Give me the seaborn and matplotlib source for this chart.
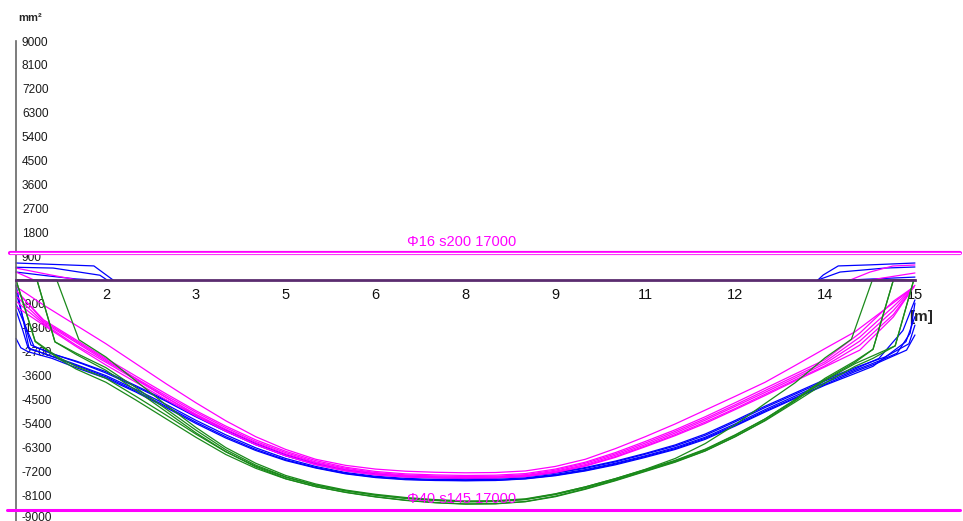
import pandas as pd
import matplotlib
matplotlib.use("Agg")
import matplotlib.pyplot as plt
import matplotlib.transforms as mtransforms
import seaborn as sns


# ---------------- data ----------------
# x ticks every 1.5 m, labels rounded like the program prints them
x_ticks = [1.5, 3.0, 4.5, 6.0, 7.5, 9.0, 10.5, 12.0, 13.5, 15.0]
x_tick_labels = ["2", "3", "5", "6", "8", "9", "11", "12", "14", "15"]
y_ticks = [9000, 8100, 7200, 6300, 5400, 4500, 3600, 2700, 1800, 900, 0,
           -900, -1800, -2700, -3600, -4500, -5400, -6300, -7200, -8100, -9000]
y_tick_labels = ["9000", "8100", "7200", "6300", "5400", "4500", "3600", "2700", "1800", "900", "",
                 "-900", "-1800", "-2700", "-3600", "-4500", "-5400", "-6300", "-7200", "-8100", "-9000"]

# provided reinforcement (mm2/m)
provided_top = 1005
provided_bottom = -8666
provided_top_label = "Φ16 s200 17000"
provided_bottom_label = "Φ40 s145 17000"

# stations of the span part (m), shared by the bottom curves
span_x = [1.5, 2.0, 2.5, 3.0, 3.5, 4.0, 4.5, 5.0, 5.5, 6.0, 6.5, 7.0, 7.5,
          8.0, 8.5, 9.0, 9.5, 10.0, 10.5, 11.0, 11.5, 12.0, 12.5, 13.0, 13.5]

# required bottom reinforcement, blue load cases
blue_left_x = [[0, 0.12, 0.22, 0.45, 0.8, 1.1], [0, 0.1, 0.2, 0.5, 0.9, 1.2], [0, 0.08, 0.2, 0.6, 1.0],
               [0, 0.15, 0.3, 0.7, 1.1], [0, 0.1, 0.25, 0.6, 1.0]]
blue_left_y = [[-190, -1500, -2600, -2750, -3050, -3300], [-1130, -1800, -2550, -2800, -3100, -3350],
               [-2200, -2550, -2700, -2950, -3300], [-900, -1700, -2500, -2850, -3150],
               [-450, -1300, -2450, -2780, -3050]]
blue_span_y = [
    [-3650, -4180, -4750, -5350, -5900, -6380, -6770, -7060, -7280, -7420, -7500, -7540, -7550,
     -7540, -7480, -7350, -7170, -6930, -6650, -6350, -5960, -5470, -4930, -4430, -3930],
    [-3600, -4120, -4680, -5280, -5830, -6320, -6720, -7020, -7250, -7390, -7470, -7510, -7520,
     -7510, -7450, -7320, -7140, -6900, -6620, -6310, -5920, -5420, -4880, -4370, -3870],
    [-3700, -4220, -4800, -5400, -5950, -6420, -6800, -7080, -7300, -7440, -7520, -7550, -7560,
     -7550, -7490, -7370, -7190, -6960, -6680, -6380, -6000, -5500, -4970, -4460, -3960],
    [-3500, -4020, -4560, -5150, -5700, -6200, -6620, -6940, -7180, -7330, -7410, -7450, -7470,
     -7460, -7400, -7270, -7090, -6850, -6560, -6250, -5850, -5340, -4800, -4300, -3800],
    [-3450, -3980, -4520, -5100, -5650, -6150, -6580, -6900, -7150, -7300, -7390, -7430, -7450,
     -7440, -7380, -7250, -7060, -6820, -6530, -6210, -5800, -5290, -4750, -4250, -3750],
]
blue_right_x = [[14.0, 14.36, 14.86, 15.0], [14.0, 14.4, 14.7, 14.92, 15.0], [14.0, 14.3, 14.85, 15.0],
                [14.0, 14.4, 14.8, 15.0], [14.0, 14.5, 14.9, 15.0]]
blue_right_y = [[-3450, -3140, -2640, -2070], [-3400, -3050, -2760, -2000, -870], [-3520, -3250, -2320, -1380],
                [-3350, -2950, -1900, -750], [-3300, -2900, -2400, -1700]]

# magenta load cases (first one is the flatter outlier)
magenta_left_x = [[0, 0.5, 1.0], [0, 0.46, 1.0], [0, 0.46, 1.0], [0, 0.46, 1.0], [0, 0.46, 1.0], [0, 0.46, 1.0]]
magenta_left_y = [[-250, -1000, -1700], [-400, -1500, -2250], [-600, -1600, -2350],
                  [-800, -1650, -2450], [-1000, -1700, -2500], [-380, -1550, -2300]]
magenta_span_y = [
    [-2400, -3150, -3900, -4620, -5300, -5900, -6380, -6750, -6980, -7120, -7200, -7240, -7260,
     -7250, -7190, -7020, -6750, -6350, -5900, -5420, -4900, -4380, -3850, -3220, -2580],
    [-2950, -3620, -4280, -4920, -5500, -6020, -6450, -6800, -7050, -7210, -7300, -7340, -7360,
     -7350, -7290, -7120, -6860, -6500, -6080, -5640, -5150, -4620, -4080, -3540, -3000],
    [-3050, -3700, -4350, -4980, -5560, -6080, -6500, -6850, -7090, -7250, -7340, -7380, -7400,
     -7390, -7330, -7160, -6900, -6550, -6140, -5700, -5220, -4700, -4160, -3620, -3080],
    [-3100, -3760, -4420, -5050, -5620, -6130, -6550, -6890, -7130, -7280, -7370, -7410, -7430,
     -7420, -7360, -7200, -6950, -6600, -6200, -5760, -5280, -4760, -4230, -3690, -3150],
    [-3200, -3850, -4500, -5120, -5690, -6200, -6610, -6940, -7170, -7320, -7400, -7440, -7450,
     -7440, -7390, -7230, -6990, -6650, -6250, -5820, -5350, -4840, -4300, -3760, -3230],
    [-3000, -3720, -4420, -5080, -5680, -6200, -6620, -6960, -7190, -7340, -7420, -7450, -7460,
     -7450, -7400, -7250, -7010, -6680, -6280, -5860, -5400, -4880, -4350, -3800, -3270],
]
magenta_right_x = [[14.0, 14.5, 14.92, 15.0], [14.08, 14.64, 14.98], [14.08, 14.64, 14.98],
                   [14.08, 14.64, 14.98], [14.08, 14.64, 14.98], [14.08, 14.64, 14.98]]
magenta_right_y = [[-1950, -1100, -380, -200], [-2000, -800, -260], [-2150, -1000, -260],
                   [-2300, -1150, -260], [-2450, -1300, -260], [-2640, -1390, -260]]

# green load cases (shifted ends, zero near the supports)
green_left_x = [[0, 0.32, 0.7, 1.0], [0, 0.35, 0.65, 1.0], [0, 0.68, 1.05], [0, 0.32, 0.7, 1.0], [0, 0.35, 0.65, 1.0]]
green_left_y = [[0, -2300, -2900, -3250], [0, 0, -2330, -2750], [0, 0, -2250], [0, -2320, -2950, -3350], [0, 0, -2330, -2800]]
green_span_y = [
    [-3700, -4380, -5080, -5800, -6470, -7010, -7430, -7730, -7940, -8100, -8220, -8300, -8350,
     -8340, -8260, -8060, -7790, -7480, -7130, -6720, -6160, -5450, -4650, -3870, -2930],
    [-3300, -4050, -4850, -5650, -6390, -6970, -7410, -7720, -7930, -8100, -8220, -8300, -8350,
     -8340, -8270, -8080, -7820, -7510, -7160, -6810, -6390, -5850, -5230, -4500, -3700],
    [-2900, -3800, -4700, -5550, -6310, -6900, -7360, -7680, -7910, -8070, -8190, -8270, -8320,
     -8310, -8240, -8050, -7790, -7480, -7140, -6790, -6370, -5830, -5230, -4520, -3780],
    [-3850, -4520, -5220, -5920, -6570, -7090, -7490, -7780, -7990, -8160, -8290, -8380, -8430,
     -8420, -8340, -8140, -7860, -7540, -7190, -6840, -6430, -5900, -5300, -4600, -3880],
    [-3400, -4150, -4950, -5750, -6460, -7040, -7480, -7780, -8000, -8170, -8300, -8390, -8440,
     -8430, -8350, -8160, -7880, -7560, -7210, -6860, -6440, -5900, -5280, -4550, -3750],
]
green_right_x = [[13.94, 14.29, 15.0], [14.0, 14.3, 14.64, 15.0], [14.0, 14.3, 14.67, 14.98, 15.0],
                 [14.0, 14.3, 14.67, 14.98, 15.0], [14.0, 14.3, 14.64, 15.0]]
green_right_y = [[-2230, 0, 0], [-3050, -2610, 0, 0], [-3150, -2850, -2480, 0, 0],
                 [-3250, -2950, -2480, 0, 0], [-3100, -2610, 0, 0]]

# required top reinforcement over the supports
top_blue_x = [[0, 1.3, 1.62], [0, 0.62, 1.4, 1.52], [0, 0.55, 1.0, 1.3],
              [13.38, 13.47, 13.72, 14.25, 15.0], [13.38, 13.75, 14.5, 15.0], [13.9, 15.0]]
top_blue_y = [[640, 530, 0], [480, 450, 180, 0], [300, 150, 40, 0],
              [0, 190, 530, 570, 640], [0, 300, 450, 490], [0, 110]]
top_magenta_x = [[0, 0.58, 1.03], [0, 0.3], [13.92, 14.25, 14.63, 15.0], [14.25, 15.0]]
top_magenta_y = [[450, 190, 0], [300, 0], [0, 300, 527, 565], [0, 265]]


# ---------------- long table ----------------
rows = []
curve_id = 0


def add_curve(family, xs, ys):
    global curve_id
    for xv, yv in zip(xs, ys):
        rows.append((family, curve_id, xv, yv))
    curve_id += 1


for family, lx, ly, sy, rx, ry in [
        ("blue", blue_left_x, blue_left_y, blue_span_y, blue_right_x, blue_right_y),
        ("magenta", magenta_left_x, magenta_left_y, magenta_span_y, magenta_right_x, magenta_right_y),
        ("green", green_left_x, green_left_y, green_span_y, green_right_x, green_right_y)]:
    for i in range(len(sy)):
        add_curve(family, lx[i] + span_x + rx[i], ly[i] + sy[i] + ry[i])

for xs, ys in zip(top_blue_x, top_blue_y):
    add_curve("blue", xs, ys)
for xs, ys in zip(top_magenta_x, top_magenta_y):
    add_curve("magenta", xs, ys)

df = pd.DataFrame(rows, columns=["family", "curve", "x", "As"])
palette = {"blue": "#0000ff", "magenta": "#ff00ff", "green": "#1a8a1a"}


# ---------------- plot ----------------
sns.set_theme(style="white")
plt.rcParams["font.family"] = ["Liberation Sans", "DejaVu Sans"]
plt.rcParams["axes.unicode_minus"] = False

fig = plt.figure(figsize=(9.63, 5.21), dpi=100)
ax = fig.add_axes([0, 0, 1, 480 / 521])

sns.lineplot(data=df, x="x", y="As", hue="family", units="curve", estimator=None,
             sort=False, palette=palette, legend=False, linewidth=0.9, ax=ax)

# provided reinforcement lines
ax.axhline(provided_top, xmin=0.01, xmax=0.997, color="#ff00ff", lw=3.0, zorder=4)
ax.axhline(provided_top, xmin=0.01, xmax=0.997, color="white", lw=1.0, zorder=5)
ax.axhline(provided_bottom, xmin=0.007, xmax=0.997, color="#ff00ff", lw=2.2, zorder=4)
ax.annotate(provided_top_label, xy=(7.44, provided_top), xytext=(0, 3), textcoords="offset points",
            ha="center", va="bottom", color="#ff00ff", fontsize=10.5)
ax.annotate(provided_bottom_label, xy=(7.44, provided_bottom), xytext=(0, 3), textcoords="offset points",
            ha="center", va="bottom", color="#ff00ff", fontsize=10.5)

ax.set_xlim(-16 / 59.93, (963 - 16) / 59.93)
ax.set_ylim(-9075, 9000)

for side in ["top", "right"]:
    ax.spines[side].set_visible(False)
ax.spines["left"].set_position(("data", 0))
ax.spines["left"].set_color("#666666")
ax.spines["left"].set_linewidth(1.2)
ax.spines["bottom"].set_position(("data", 0))
ax.spines["bottom"].set_bounds(0, 15)
ax.spines["bottom"].set_color("#5b2c6f")
ax.spines["bottom"].set_linewidth(2.0)

ax.set_xticks(x_ticks, x_tick_labels)
ax.set_yticks(y_ticks, y_tick_labels)
ax.tick_params(axis="x", direction="inout", length=8.5, width=1, color="#333333",
               pad=1.5, labelsize=10.5, labelcolor="#111111")
ax.tick_params(axis="y", direction="inout", length=7, width=1, color="#555555",
               pad=-7.8, labelsize=8.6, labelcolor="#1a1a1a")
for lbl in ax.get_yticklabels():
    lbl.set_horizontalalignment("left")
    lbl.set_verticalalignment("center_baseline")

# the lowest label sits on the picture's edge: lift it a little
last = ax.get_yticklabels()[-1]
last.set_transform(last.get_transform()
                   + mtransforms.ScaledTranslation(0, 2 / 72, fig.dpi_scale_trans))

ax.set_xlabel("[m]", fontsize=11, fontweight="bold")
ax.xaxis.set_label_coords(15.1, -1130, transform=ax.transData)
ax.set_ylabel("mm²", fontsize=8, fontweight="bold", rotation=0, va="center", ha="left")
ax.yaxis.set_label_coords(0.03, 9865, transform=ax.transData)

fig.savefig("out.png", dpi=100)
